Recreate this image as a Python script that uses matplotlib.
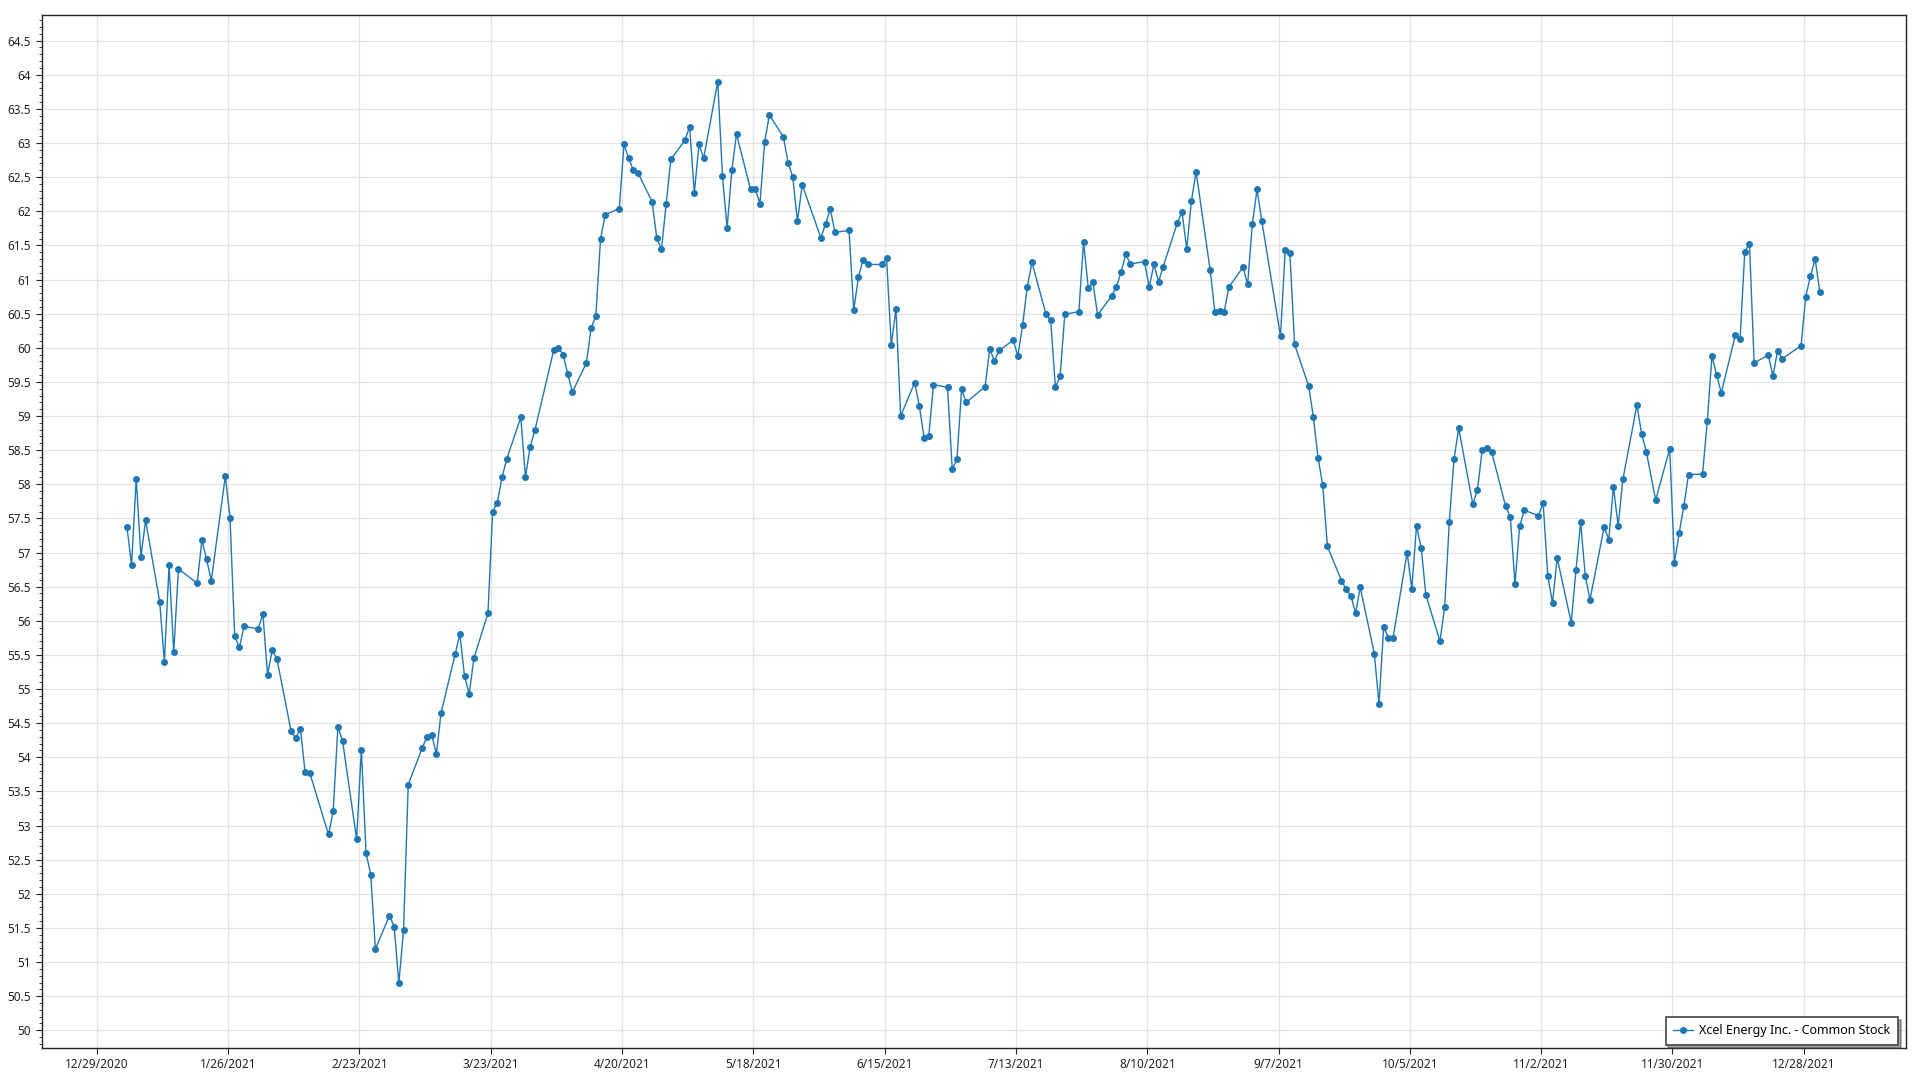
import matplotlib
matplotlib.use("Agg")
import matplotlib.pyplot as plt
from matplotlib.ticker import MultipleLocator
import pandas as pd

plt.rcParams['font.family'] = ['Noto Sans', 'DejaVu Sans']

# closing prices, one list per month (trading days only)
jan = [57.38, 56.82, 58.08, 56.94, 57.47, 56.28, 55.40, 56.81, 55.54, 56.76,
       56.55, 57.18, 56.90, 56.59, 58.12, 57.51, 55.77, 55.61, 55.92]
feb = [55.88, 56.10, 55.21, 55.57, 55.44, 54.39, 54.28, 54.42, 53.79, 53.77,
       52.87, 53.21, 54.44, 54.24, 52.80, 54.11, 52.60, 52.28, 51.19]
mar = [51.68, 51.52, 50.69, 51.47, 53.60, 54.14, 54.30, 54.33, 54.05, 54.65,
       55.51, 55.81, 55.19, 54.93, 55.45, 56.11, 57.60, 57.73, 58.10, 58.37,
       58.98, 58.11, 58.55]
apr = [58.79, 59.96, 60.00, 59.90, 59.62, 59.35, 59.78, 60.29, 60.46, 61.59,
       61.95, 62.04, 62.98, 62.78, 62.60, 62.56, 62.14, 61.61, 61.44, 62.11,
       62.76]
may = [63.04, 63.24, 62.27, 62.98, 62.78, 63.90, 62.52, 61.76, 62.60, 63.13,
       62.32, 62.33, 62.11, 63.01, 63.41, 63.09, 62.71, 62.50, 61.85, 62.39]
jun = [61.61, 61.82, 62.03, 61.69, 61.72, 60.55, 61.04, 61.29, 61.22, 61.22,
       61.31, 60.04, 60.57, 59.00, 59.49, 59.14, 58.68, 58.71, 59.46, 59.42,
       58.22, 58.37]
jul = [59.39, 59.20, 59.43, 59.98, 59.81, 59.96, 60.11, 59.88, 60.33, 60.89,
       61.25, 60.49, 60.40, 59.42, 59.58, 60.49, 60.53, 61.55, 60.88, 60.96,
       60.48]
aug = [60.76, 60.89, 61.11, 61.37, 61.23, 61.26, 60.89, 61.22, 60.97, 61.19,
       61.83, 61.99, 61.45, 62.15, 62.58, 61.14, 60.52, 60.54, 60.53, 60.89,
       61.18, 60.93]
sep = [61.82, 62.32, 61.86, 60.17, 61.43, 61.39, 60.05, 59.44, 58.99, 58.39,
       57.99, 57.09, 56.59, 56.46, 56.37, 56.11, 56.49, 55.52, 54.78, 55.91,
       55.75]
oct_ = [55.75, 57.00, 56.47, 57.39, 57.07, 56.38, 55.70, 56.20, 57.45, 58.37,
        58.82, 57.71, 57.92, 58.50, 58.53, 58.48, 57.68, 57.52, 56.54, 57.39,
        57.62]
nov = [57.54, 57.73, 56.65, 56.26, 56.92, 55.97, 56.74, 57.44, 56.65, 56.31,
       57.37, 57.19, 57.96, 57.39, 58.07, 59.16, 58.74, 58.48, 57.77, 58.52,
       56.85]
dec = [57.28, 57.68, 58.14, 58.15, 58.92, 59.88, 59.60, 59.34, 60.19, 60.13,
       61.41, 61.52, 59.78, 59.89, 59.59, 59.95, 59.84, 60.03, 60.75, 61.05,
       61.30, 60.82]

holidays = ['2021-01-18', '2021-02-15', '2021-04-02', '2021-05-31',
            '2021-07-05', '2021-09-06', '2021-11-25', '2021-12-24']
series_name = 'Xcel Energy Inc. - Common Stock'
tick_start = '2020-12-29'

dates = pd.bdate_range('2021-01-04', '2021-12-31')
dates = dates[~dates.isin(pd.to_datetime(holidays))]
# the source seems to stamp quotes a few hours into the day
dates = dates + pd.Timedelta(hours=10)
prices = jan + feb + mar + apr + may + jun + jul + aug + sep + oct_ + nov + dec

fig = plt.figure(figsize=(19.2, 10.8), dpi=100)
ax = fig.add_axes([0.0217, 0.0296, 0.971, 0.9568])

blue = '#1f77b4'
ax.plot(dates, prices, color=blue, linewidth=1.0, marker='o', markersize=4,
        label=series_name)

ticks = pd.date_range(tick_start, periods=14, freq='28D')
ax.set_xticks(ticks)
ax.set_xticklabels([f"{d.month}/{d.day}/{d.year}" for d in ticks])
ax.set_xlim(pd.Timestamp('2020-12-17 06:00'), pd.Timestamp('2022-01-18 19:00'))

ax.set_ylim(49.74, 64.88)
ax.yaxis.set_major_locator(MultipleLocator(0.5))
ax.yaxis.set_minor_locator(MultipleLocator(0.1))
ax.yaxis.set_major_formatter(plt.FuncFormatter(lambda v, p: f"{v:g}"))

ax.grid(True, which='major', color='#e3e3e3', linewidth=0.9)
ax.set_axisbelow(True)
ax.tick_params(axis='both', which='major', labelsize=8.5, colors='#222222',
               length=4, width=0.8)
ax.tick_params(axis='y', which='minor', length=2, width=0.6, colors='#222222')
for s in ax.spines.values():
    s.set_color('#222222')
    s.set_linewidth(1.0)

leg = ax.legend(loc='lower right', fontsize=9, frameon=True, fancybox=False,
                shadow=True, edgecolor='#444444', borderpad=0.6,
                handlelength=1.6, handletextpad=0.5, borderaxespad=0.25,
                bbox_to_anchor=(0.9975, 0.0))
leg.get_frame().set_linewidth(1.2)

fig.savefig('out.png', dpi=100)
